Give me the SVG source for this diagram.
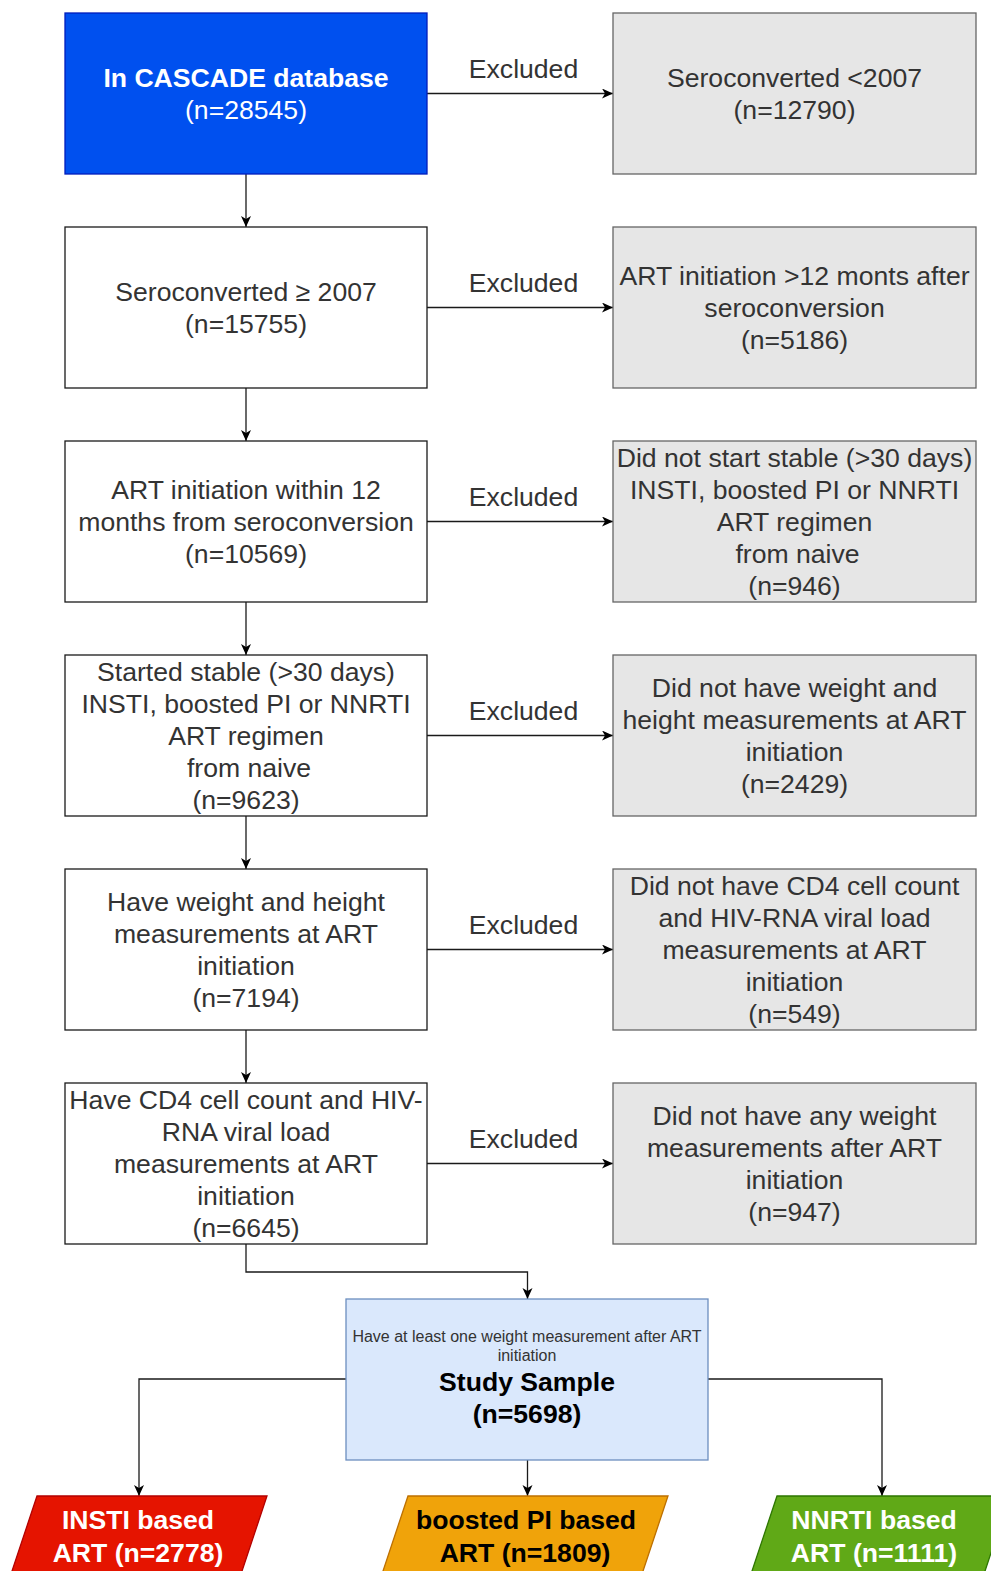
<svg xmlns="http://www.w3.org/2000/svg" width="991" height="1571" viewBox="0 0 991 1571">
<defs>
<style>
text{font-family:"Liberation Sans",Arial,Helvetica,sans-serif;font-size:26.6px;text-anchor:middle;fill:#333333}
.b{font-weight:bold}
.w{fill:#ffffff}
.k{fill:#000000}
.sm{font-size:16px}
.box{fill:#ffffff;stroke:#1a1a1a;stroke-width:1.3}
.ex{fill:#e6e6e6;stroke:#666666;stroke-width:1.3}
.edge{fill:none;stroke:#1a1a1a;stroke-width:1.3;marker-end:url(#arr)}
</style>
<marker id="arr" markerUnits="userSpaceOnUse" markerWidth="13" markerHeight="11" refX="11" refY="5" orient="auto">
<path d="M0,0 L11,5 L0,10 L3,5 z" fill="#000000"/>
</marker>
</defs>
<rect width="991" height="1571" fill="#ffffff"/>

<g id="connectors">
<path class="edge" d="M246,174 V227"/>
<path class="edge" d="M246,388 V441"/>
<path class="edge" d="M246,602 V655"/>
<path class="edge" d="M246,816 V869"/>
<path class="edge" d="M246,1030 V1083"/>
<path class="edge" d="M246,1244 V1272 H527.5 V1299"/>
<path class="edge" d="M427,93.5 H613"/>
<path class="edge" d="M427,307.5 H613"/>
<path class="edge" d="M427,521.5 H613"/>
<path class="edge" d="M427,735.5 H613"/>
<path class="edge" d="M427,949.5 H613"/>
<path class="edge" d="M427,1163.5 H613"/>
<path class="edge" d="M346,1379 H139 V1496"/>
<path class="edge" d="M708,1379 H882 V1496"/>
<path class="edge" d="M527.5,1460 V1496"/>
<text x="523.5" y="78">Excluded</text>
<text x="523.5" y="292">Excluded</text>
<text x="523.5" y="506">Excluded</text>
<text x="523.5" y="720">Excluded</text>
<text x="523.5" y="934">Excluded</text>
<text x="523.5" y="1148">Excluded</text>
</g>

<g id="n1">
<rect x="65" y="13" width="362" height="161" fill="#0050ef" stroke="#001dbc" stroke-width="1.3"/>
<text class="b w" x="246" y="86.5">In CASCADE database</text>
<text class="w" x="246" y="118.5">(n=28545)</text>
</g>
<g id="n2">
<rect class="box" x="65" y="227" width="362" height="161"/>
<text x="246" y="300.5">Seroconverted ≥ 2007</text>
<text x="246" y="332.5">(n=15755)</text>
</g>
<g id="n3">
<rect class="box" x="65" y="441" width="362" height="161"/>
<text x="246" y="498.5">ART initiation within 12</text>
<text x="246" y="530.5">months from seroconversion</text>
<text x="246" y="562.5">(n=10569)</text>
</g>
<g id="n4">
<rect class="box" x="65" y="655" width="362" height="161"/>
<text x="246" y="680.5">Started stable (&gt;30 days)</text>
<text x="246" y="712.5">INSTI, boosted PI or NNRTI</text>
<text x="246" y="744.5">ART regimen</text>
<text x="249" y="776.5">from naive</text>
<text x="246" y="808.5">(n=9623)</text>
</g>
<g id="n5">
<rect class="box" x="65" y="869" width="362" height="161"/>
<text x="246" y="910.5">Have weight and height</text>
<text x="246" y="942.5">measurements at ART</text>
<text x="246" y="974.5">initiation</text>
<text x="246" y="1006.5">(n=7194)</text>
</g>
<g id="n6">
<rect class="box" x="65" y="1083" width="362" height="161"/>
<text x="246" y="1108.5">Have CD4 cell count and HIV-</text>
<text x="246" y="1140.5">RNA viral load</text>
<text x="246" y="1172.5">measurements at ART</text>
<text x="246" y="1204.5">initiation</text>
<text x="246" y="1236.5">(n=6645)</text>
</g>

<g id="x1">
<rect class="ex" x="613" y="13" width="363" height="161"/>
<text x="794.5" y="86.5">Seroconverted &lt;2007</text>
<text x="794.5" y="118.5">(n=12790)</text>
</g>
<g id="x2">
<rect class="ex" x="613" y="227" width="363" height="161"/>
<text x="794.5" y="284.5">ART initiation &gt;12 monts after</text>
<text x="794.5" y="316.5">seroconversion</text>
<text x="794.5" y="348.5">(n=5186)</text>
</g>
<g id="x3">
<rect class="ex" x="613" y="441" width="363" height="161"/>
<text x="794.5" y="466.5">Did not start stable (&gt;30 days)</text>
<text x="794.5" y="498.5">INSTI, boosted PI or NNRTI</text>
<text x="794.5" y="530.5">ART regimen</text>
<text x="797.5" y="562.5">from naive</text>
<text x="794.5" y="594.5">(n=946)</text>
</g>
<g id="x4">
<rect class="ex" x="613" y="655" width="363" height="161"/>
<text x="794.5" y="696.5">Did not have weight and</text>
<text x="794.5" y="728.5">height measurements at ART</text>
<text x="794.5" y="760.5">initiation</text>
<text x="794.5" y="792.5">(n=2429)</text>
</g>
<g id="x5">
<rect class="ex" x="613" y="869" width="363" height="161"/>
<text x="794.5" y="894.5">Did not have CD4 cell count</text>
<text x="794.5" y="926.5">and HIV-RNA viral load</text>
<text x="794.5" y="958.5">measurements at ART</text>
<text x="794.5" y="990.5">initiation</text>
<text x="794.5" y="1022.5">(n=549)</text>
</g>
<g id="x6">
<rect class="ex" x="613" y="1083" width="363" height="161"/>
<text x="794.5" y="1124.5">Did not have any weight</text>
<text x="794.5" y="1156.5">measurements after ART</text>
<text x="794.5" y="1188.5">initiation</text>
<text x="794.5" y="1220.5">(n=947)</text>
</g>

<g id="study">
<rect x="346" y="1299" width="362" height="161" fill="#dae8fc" stroke="#6c8ebf" stroke-width="1.3"/>
<text class="sm" x="527" y="1342">Have at least one weight measurement after ART</text>
<text class="sm" x="527" y="1361">initiation</text>
<text class="b k" x="527" y="1391">Study Sample</text>
<text class="b k" x="527" y="1423">(n=5698)</text>
</g>

<g id="insti">
<polygon points="37,1496 267,1496 235.7,1590 5.7,1590" fill="#e51400" stroke="#b20000" stroke-width="1.3"/>
<text class="b w" x="138" y="1529">INSTI based</text>
<text class="b w" x="138" y="1562">ART (n=2778)</text>
</g>
<g id="pi">
<polygon points="408,1496 668,1496 636.7,1590 376.7,1590" fill="#f0a30a" stroke="#bd7000" stroke-width="1.3"/>
<text class="b k" x="526" y="1529">boosted PI based</text>
<text class="b k" x="525" y="1562">ART (n=1809)</text>
</g>
<g id="nnrti">
<polygon points="777,1496 1010,1496 978.7,1590 745.7,1590" fill="#60a917" stroke="#2d7600" stroke-width="1.3"/>
<text class="b w" x="874" y="1529">NNRTI based</text>
<text class="b w" x="874" y="1562">ART (n=1111)</text>
</g>
</svg>
